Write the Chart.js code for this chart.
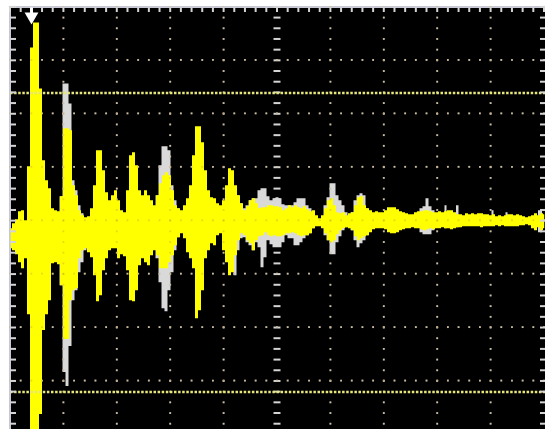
<!doctype html>
<html lang="en">

<head>
    <meta charset="utf-8">
    <title>Scope trace</title>
    <style>
        * {
            margin: 0;
            padding: 0;
        }

        html, body {
            width: 545px;
            height: 429px;
            overflow: hidden;
            background: #ffffff;
        }

        canvas {
            display: block;
        }
    </style>
</head>

<body>
    <canvas id="scope" width="545" height="429"></canvas>

    <script src="https://cdn.jsdelivr.net/npm/chart.js"></script>
    <script>
        // trace, one column every 3 time counts
        const traceStep = 3;
        const traceStart = 0.5;
        const yellowUp = [
            -8, -3, 1, 9, 10, 0, 54, 173, 198, 198, 132, 60, 40, 32, 12, 10, 9, 24, 92, 92,
            90, 35, 25, 10, 5, 3, 4, 12, 35, 70, 70, 50, 28, 20, 25, 30, 20, 10, 8, 30,
            65, 68, 55, 30, 25, 30, 25, 20, 15, 25, 37, 45, 48, 45, 30, 15, 12, 10, 15, 22,
            35, 65, 94, 94, 78, 50, 30, 23, 22, 17, 15, 20, 35, 52, 50, 35, 25, 17, 10, 14,
            20, 22, 17, 12, 13, 13, 15, 15, 14, 14, 13, 10, 12, 15, 13, 15, 13, 12, 14, 11,
            9, 10, 5, 2, 5, 12, 20, 22, 15, 8, 7, 8, 5, 7, 8, 15, 23, 24, 15, 12,
            10, 8, 9, 8, 8, 10, 13, 13, 13, 11, 9, 8, 7, 6, 6, 8, 9, 9, 10, 10,
            9, 8, 8, 9, 8, 9, 10, 10, 8, 6, 6, 5, 7, 6, 7, 6, 7, 7, 6, 6,
            5, 6, 4, 5, 4, 5, 6, 6, 5, 6, 5, 4, 3, 4, 5, 7, 5, 7, 6
        ];
        const yellowLo = [
            -28, -30, -34, -42, -48, -38, -94, -215, -215, -215, -194, -110, -94, -80, -43, -42, -44, -65, -119, -119,
            -80, -70, -68, -38, -30, -28, -32, -37, -55, -81, -75, -50, -38, -30, -28, -28, -38, -34, -36, -50,
            -80, -81, -70, -45, -38, -42, -45, -35, -30, -35, -48, -48, -48, -42, -35, -25, -17, -13, -18, -32,
            -38, -48, -98, -90, -70, -38, -30, -23, -25, -15, -13, -30, -42, -55, -52, -35, -20, -13, -15, -20,
            -23, -30, -20, -16, -15, -12, -15, -16, -15, -16, -16, -15, -13, -13, -12, -13, -15, -16, -15, -15,
            -13, -8, -6, -6, -8, -13, -20, -22, -20, -14, -10, -8, -7, -8, -10, -16, -20, -18, -16, -15,
            -12, -9, -8, -8, -8, -9, -12, -13, -13, -12, -10, -9, -8, -8, -7, -8, -8, -9, -10, -9,
            -8, -9, -8, -8, -7, -8, -8, -9, -8, -7, -7, -6, -6, -6, -6, -6, -6, -7, -6, -6,
            -6, -6, -5, -6, -5, -6, -6, -6, -6, -6, -5, -5, -4, -5, -8, -10, -7, -10, -8
        ];

        // grey persistence trace, only where it shows past the yellow one
        const greyTime = [
            48, 51, 54, 57, 60, 63, 66, 69, 72, 75, 78,
            144, 147, 150, 153, 156, 159, 162, 165, 168, 171,
            222, 225, 228, 231, 234, 237, 240, 243, 246, 249, 252, 255, 258, 261, 264, 267, 270, 273, 276, 279,
            282, 285, 288, 291, 294, 297, 300, 303, 306,
            312, 315, 318, 321, 324, 327, 330, 333, 336, 339, 342, 345, 348, 351, 354, 357, 360,
            408, 411, 414, 417, 420, 423, 426, 434, 435, 438, 445, 447, 450, 481, 482, 485, 495, 496, 499, 526, 530, 534
        ];
        const greyUp = [
            0, 24, 137, 137, 117, 40, 30, 15, 7, 2, 0,
            0, 25, 55, 74, 74, 70, 35, 20, 12, 0,
            0, 20, 25, 17, 12, 15, 20, 22, 22, 30, 32, 32, 24, 20, 22, 23, 22, 16, 15, 15,
            15, 18, 22, 22, 22, 15, 12, 8, 0,
            0, 15, 23, 37, 37, 25, 20, 15, 8, 0, 8, 20, 25, 27, 25, 12, 0,
            0, 12, 14, 22, 14, 10, 0, 0, 15, 0, 0, 15, 0, 0, 10, 0, 0, 8, 0, 0, 10, 0
        ];
        const greyLo = [
            0, -65, -152, -166, -126, -80, -70, -52, -42, -30, 0,
            0, -38, -62, -88, -91, -70, -52, -30, -17, 0,
            0, -55, -30, -18, -17, -22, -25, -30, -22, -27, -47, -37, -20, -24, -27, -27, -27, -22, -15, -18,
            -18, -25, -25, -22, -18, -15, -13, -8, 0,
            0, -15, -20, -34, -34, -22, -16, -10, -7, 0, -10, -20, -27, -23, -20, -15, 0,
            0, -12, -14, -14, -14, -10, 0, 0, -8, 0, 0, -7, 0, 0, -5, 0, 0, -5, 0, 0, -12, 0
        ];

        // axis ranges and graticule, in the same counts as the trace
        const timeRange = [0, 535];
        const ampRange = [-209, 213.5];
        const majorTimes = [53.4, 106.8, 160.2, 213.6, 267, 320.4, 373.8, 427.2, 480.6];
        const majorAmps = [160.5, 107, 53.5, 0, -53.5, -107, -160.5];
        const minorTimes = [];
        const minorAmps = [];
        for (let t = 0; t <= 535; t += 10.68) minorTimes.push(t);
        for (let a = 213.6; a >= -209; a -= 10.7) minorAmps.push(a);
        const centerTime = 267;
        const cursorAmps = [127.5, -172];
        const triggerTime = 21.5;

        const toPoints = (xs, ys) => xs.map((x, i) => ({ x: x, y: ys[i] }));
        const traceTime = yellowUp.map((v, i) => traceStart + i * traceStep);

        // graticule dots on every major line, centre lines get their own marks
        const dotPoints = [];
        majorAmps.forEach(a => minorTimes.forEach(t => dotPoints.push({ x: t, y: a })));
        majorTimes.filter(t => t !== centerTime).forEach(t => minorAmps.forEach(a => dotPoints.push({ x: t, y: a })));

        const band = (label, xs, up, lo, color) => ([
            { label: label + ' up', data: toPoints(xs, up), showLine: true, stepped: 'middle', borderWidth: 0, pointRadius: 0, fill: '+1', backgroundColor: color },
            { label: label + ' lo', data: toPoints(xs, lo), showLine: true, stepped: 'middle', borderWidth: 0, pointRadius: 0, fill: false }
        ]);

        const marks = (label, data, style, radius, rotation, color, width) => ({
            label: label,
            data: data,
            pointStyle: style,
            pointRadius: radius,
            rotation: rotation,
            borderWidth: width,
            borderColor: color,
            backgroundColor: color,
            clip: false
        });

        const cursor = amp => ({
            label: 'cursor',
            data: [{ x: timeRange[0], y: amp }, { x: timeRange[1], y: amp }],
            showLine: true,
            pointRadius: 0,
            borderColor: '#e6e67a',
            borderWidth: 2.5,
            borderDash: [2.5, 1.6]
        });

        const scopeBackground = {
            id: 'scopeBackground',
            beforeDraw(chart) {
                const { ctx, chartArea: a } = chart;
                ctx.save();
                ctx.fillStyle = '#000000';
                ctx.fillRect(a.left, a.top, a.width, a.height + 2);
                ctx.strokeStyle = '#c9c9d6';
                ctx.lineWidth = 2;
                ctx.beginPath();
                ctx.moveTo(a.left, a.bottom + 2);
                ctx.lineTo(a.left, a.top);
                ctx.lineTo(a.right, a.top);
                ctx.stroke();
                ctx.restore();
            }
        };

        const config = {
            type: 'scatter',
            // first dataset ends up on top
            data: {
                datasets: [
                    marks('trigger', [{ x: triggerTime, y: 204 }], 'triangle', 8, 180, '#ffffff', 0),
                    { label: 'trigger stem', data: [{ x: triggerTime, y: 213 }, { x: triggerTime, y: 204 }], showLine: true, pointRadius: 0, borderColor: '#ffffff', borderWidth: 3 },
                    marks('top ticks', minorTimes.map(t => ({ x: t, y: 211 })), 'line', 2.5, 90, '#d4d4d4', 2),
                    marks('right ticks', minorAmps.map(a => ({ x: 533, y: a })), 'line', 3, 0, '#d4d4d4', 2),
                    marks('left ticks', minorAmps.map(a => ({ x: 3, y: a })), 'line', 3, 0, '#d4d4d4', 2),
                    cursor(cursorAmps[1]),
                    cursor(cursorAmps[0]),
                    marks('dots over', dotPoints, 'rect', 1.3, 0, 'rgba(190,150,70,0.35)', 0),
                    ...band('yellow', traceTime, yellowUp, yellowLo, '#ffff00'),
                    ...band('grey', greyTime, greyUp, greyLo, '#d9d9d9'),
                    marks('centre ticks', minorAmps.map(a => ({ x: centerTime, y: a })), 'line', 3.5, 0, '#d4d4d4', 2),
                    marks('dots', dotPoints, 'rect', 1.3, 0, '#cfcfcf', 0)
                ]
            },
            options: {
                responsive: false,
                animation: false,
                layout: { autoPadding: false, padding: { left: 10, top: 7, right: 0, bottom: 0 } },
                plugins: { legend: { display: false }, tooltip: { enabled: false } },
                scales: {
                    x: { type: 'linear', min: timeRange[0], max: timeRange[1], display: false },
                    y: { type: 'linear', min: ampRange[0], max: ampRange[1], display: false }
                }
            },
            plugins: [scopeBackground]
        };

        const scope = new Chart(document.getElementById('scope'), config);
    </script>

</body>

</html>
